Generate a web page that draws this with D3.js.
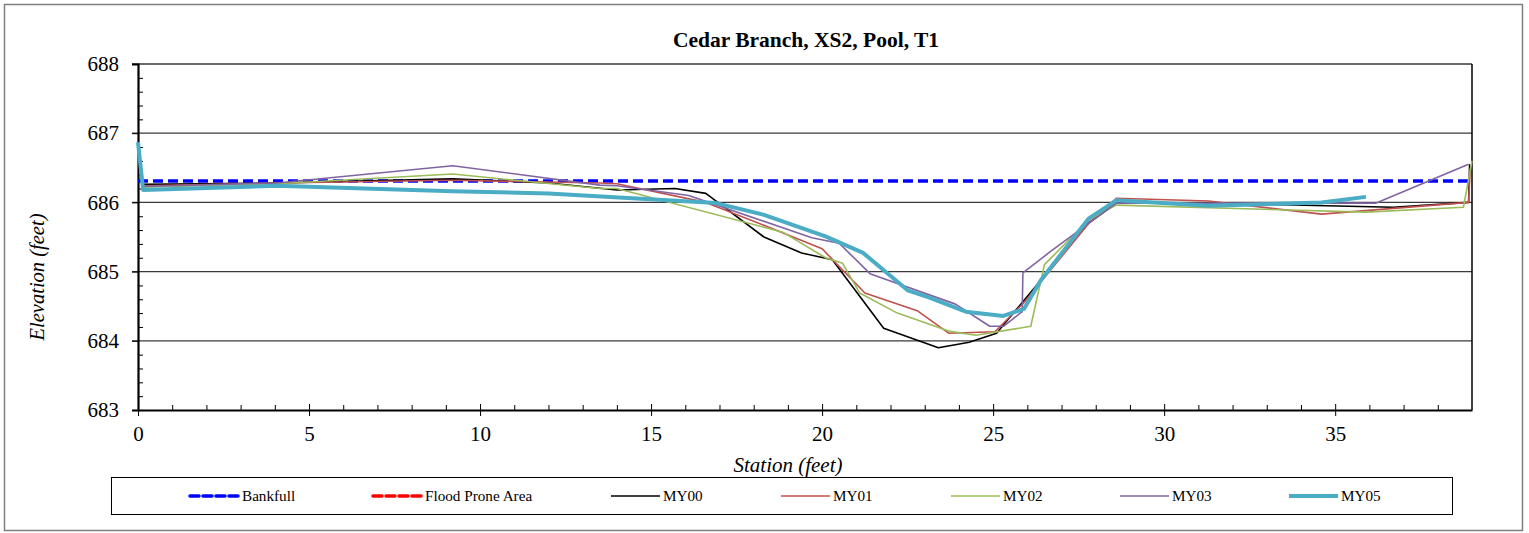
<!DOCTYPE html>
<html>
<head>
<meta charset="utf-8">
<script src="https://cdn.jsdelivr.net/npm/d3@7"></script>
<style>
  body { margin: 0; background: #fff; }
  text { font-family: "Liberation Serif", "Times New Roman", serif; fill: #000; }
</style>
</head>
<body>
<svg id="chart" width="1529" height="533"></svg>
<script>
// survey values: [station (ft), elevation (ft)]
const bankfull = [[0, 686.31], [39, 686.31]];
const floodProne = [];   // not visible in the plotted range
const my00 = [[0, 686.85], [0.15, 686.26], [4.06, 686.28], [9.2, 686.34], [12.0, 686.28], [14.0, 686.18], [15.7, 686.2], [16.6, 686.13], [18.3, 685.5], [19.4, 685.27], [20.3, 685.17], [21.8, 684.18], [23.4, 683.9], [24.3, 683.98], [25.1, 684.11], [26.4, 684.88], [27.7, 685.67], [28.6, 685.99], [31.3, 685.99], [36.7, 685.93], [38.9, 686.0], [38.93, 686.55]];
const my01 = [[0, 686.85], [0.15, 686.24], [4.06, 686.28], [9.2, 686.32], [13.5, 686.28], [14.0, 686.27], [16.6, 686.0], [18.3, 685.67], [20.0, 685.33], [21.25, 684.69], [22.8, 684.43], [23.7, 684.11], [25.05, 684.13], [25.9, 684.55], [27.8, 685.7], [28.6, 686.06], [31.3, 686.02], [34.6, 685.83], [38.9, 686.0], [38.95, 686.5]];
const my02 = [[0, 686.85], [0.15, 686.22], [4.06, 686.27], [9.2, 686.41], [13.5, 686.2], [14.0, 686.2], [18.85, 685.57], [20.1, 685.2], [20.6, 685.12], [21.1, 684.69], [22.2, 684.4], [23.7, 684.14], [24.5, 684.08], [26.1, 684.21], [26.5, 685.1], [27.8, 685.75], [28.6, 685.96], [35.9, 685.86], [38.75, 685.93], [39.0, 686.6]];
const my03 = [[0, 686.85], [0.15, 686.23], [4.06, 686.28], [9.2, 686.53], [13.5, 686.25], [14.0, 686.24], [16.1, 686.1], [19.7, 685.49], [20.5, 685.41], [21.4, 684.97], [23.9, 684.53], [24.9, 684.21], [25.3, 684.21], [25.85, 684.42], [25.87, 684.98], [26.65, 685.28], [28.6, 685.99], [36.2, 685.99], [38.9, 686.55]];
const my05 = [[0, 686.87], [0.15, 686.18], [4.06, 686.24], [9.2, 686.16], [12.0, 686.13], [16.9, 685.99], [18.3, 685.82], [20.1, 685.51], [21.2, 685.27], [22.5, 684.73], [23.1, 684.63], [24.2, 684.42], [25.3, 684.36], [25.9, 684.46], [26.4, 684.88], [27.8, 685.77], [28.6, 686.03], [31.3, 685.95], [34.6, 686.0], [35.9, 686.08]];

const xTicks = [0, 5, 10, 15, 20, 25, 30, 35];
const yTicks = [683, 684, 685, 686, 687, 688];

const series = [
  {name: "Bankfull", data: bankfull, color: "#0000ff", width: 3.5, dash: "10,5"},
  {name: "Flood Prone Area", data: floodProne, color: "#ff0000", width: 3.5, dash: "10,5"},
  {name: "MY00", data: my00, color: "#000000", width: 1.6},
  {name: "MY01", data: my01, color: "#c0504d", width: 1.6},
  {name: "MY02", data: my02, color: "#9bbb59", width: 1.6},
  {name: "MY03", data: my03, color: "#8064a2", width: 1.6},
  {name: "MY05", data: my05, color: "#4bacc6", width: 4}
];
const legendX = [190, 373, 611, 781, 951, 1120, 1289];

const svg = d3.select("#chart");
const plot = {left: 138, right: 1472, top: 64, bottom: 410};

const x = d3.scaleLinear().domain([0, 39]).range([plot.left, plot.right]);
const y = d3.scaleLinear().domain([683, 688]).range([plot.bottom, plot.top]);

// outer frame
svg.append("rect")
    .attr("x", 4.5).attr("y", 4.5)
    .attr("width", 1518).attr("height", 526)
    .attr("fill", "none").attr("stroke", "#7f7f7f").attr("stroke-width", 1.5);

svg.append("text")
    .attr("x", 806).attr("y", 47)
    .attr("text-anchor", "middle")
    .attr("font-size", 21.5).attr("font-weight", "bold")
    .text("Cedar Branch, XS2, Pool, T1");

// gridlines
svg.append("g").selectAll("line").data(yTicks.slice(1)).enter().append("line")
    .attr("x1", plot.left - 6).attr("x2", plot.right)
    .attr("y1", d => y(d)).attr("y2", d => y(d))
    .attr("stroke", "#3a3a3a").attr("stroke-width", 1.3);

svg.append("line")
    .attr("x1", plot.right).attr("x2", plot.right)
    .attr("y1", plot.top).attr("y2", plot.bottom)
    .attr("stroke", "#000").attr("stroke-width", 1.5);

// y axis
const yAxis = svg.append("g")
    .attr("transform", "translate(" + plot.left + ",0)")
    .call(d3.axisLeft(y).tickValues(yTicks).tickSize(6).tickFormat(d3.format("d")));
yAxis.select(".domain").attr("stroke-width", 2.2);
yAxis.selectAll("text").attr("font-size", 21).attr("font-family", "Liberation Serif").attr("x", -19);

svg.append("g")
    .attr("transform", "translate(" + plot.left + ",0)")
    .call(d3.axisRight(y).tickValues(d3.range(683, 688.01, 0.2).filter(v => Math.abs(v - Math.round(v)) > 0.01)).tickSize(5).tickFormat(""))
    .select(".domain").remove();

// x axis
const xAxis = svg.append("g")
    .attr("transform", "translate(0," + plot.bottom + ")")
    .call(d3.axisBottom(x).tickValues(xTicks).tickSizeInner(6).tickSizeOuter(0).tickFormat(d3.format("d")));
xAxis.select(".domain").attr("stroke-width", 2.2);
xAxis.selectAll(".tick line").attr("y1", -6);
xAxis.selectAll("text").attr("font-size", 21).attr("font-family", "Liberation Serif").attr("y", 16);

svg.append("g")
    .attr("transform", "translate(0," + plot.bottom + ")")
    .call(d3.axisTop(x).tickValues(d3.range(1, 39).filter(v => v % 5 !== 0)).tickSize(5).tickFormat(""))
    .select(".domain").remove();

svg.append("text")
    .attr("x", 788).attr("y", 472)
    .attr("text-anchor", "middle")
    .attr("font-size", 21).attr("font-style", "italic")
    .text("Station (feet)");

svg.append("text")
    .attr("transform", "translate(44,277) rotate(-90)")
    .attr("text-anchor", "middle")
    .attr("font-size", 20.5).attr("font-style", "italic")
    .text("Elevation (feet)");

// series
const line = d3.line().x(d => x(d[0])).y(d => y(d[1]));
svg.append("g").selectAll("path").data(series).enter().append("path")
    .attr("d", d => d.data.length ? line(d.data) : null)
    .attr("fill", "none")
    .attr("stroke", d => d.color)
    .attr("stroke-width", d => d.width)
    .attr("stroke-dasharray", d => d.dash || null)
    .attr("stroke-linejoin", "round");

// legend
svg.append("rect")
    .attr("x", 111.5).attr("y", 477.5)
    .attr("width", 1341).attr("height", 37)
    .attr("fill", "#fff").attr("stroke", "#000").attr("stroke-width", 1);

const item = svg.append("g").selectAll("g").data(series).enter().append("g")
    .attr("transform", (d, i) => "translate(" + legendX[i] + ",496)");
item.append("line")
    .attr("x1", 0).attr("x2", 49)
    .attr("stroke", d => d.color)
    .attr("stroke-width", d => d.width)
    .attr("stroke-dasharray", d => d.dash ? "9,4" : null)
    .attr("stroke-linecap", d => d.dash ? "round" : "butt");
item.append("text")
    .attr("x", 52).attr("y", 5)
    .attr("font-size", 15.2)
    .text(d => d.name);
</script>
</body>
</html>
